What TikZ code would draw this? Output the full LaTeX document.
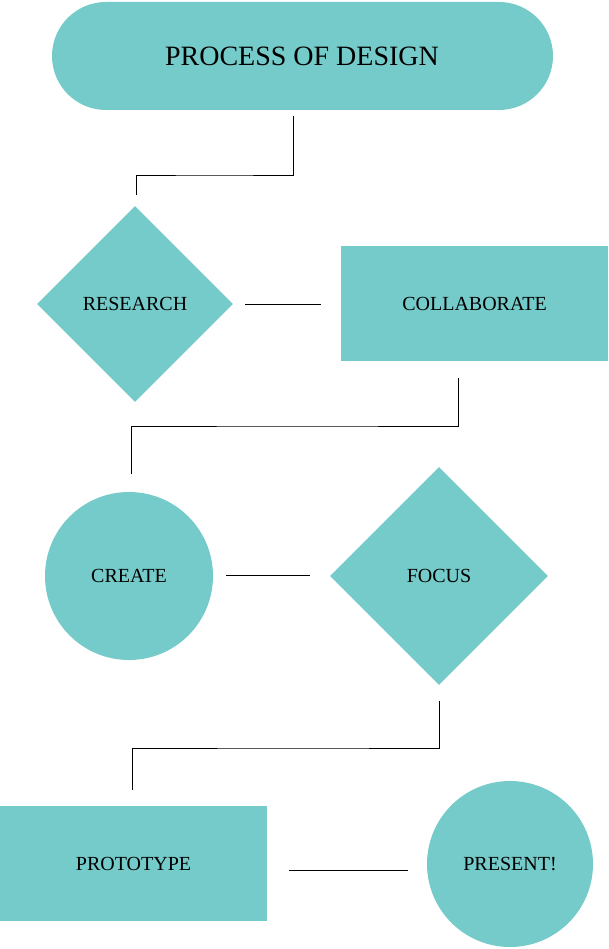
\documentclass[tikz,border=0pt]{standalone}
\usepackage{fontspec}
\setmainfont{Liberation Serif}
\usetikzlibrary{shapes.geometric}
\definecolor{teal1}{HTML}{75CBC9}
\begin{document}
\begin{tikzpicture}[x=1pt,y=-1pt,
  fillbox/.style={fill=teal1,draw=none,inner sep=0pt,font=\fontsize{20}{24}\selectfont},
  link/.style={draw=black,line width=0.6pt}]
\useasboundingbox (0,0) rectangle (609,949);
\fill[teal1,rounded corners=54pt] (52,2) rectangle (553,110);
\node[font=\fontsize{28}{32}\selectfont] (title) at (302,56) {PROCESS OF DESIGN};
\node[fillbox,diamond,minimum width=196pt,minimum height=196pt] (research) at (135,304) {RESEARCH};
\node[fillbox,rectangle,minimum width=267pt,minimum height=115pt] (collab) at (474.5,303.5) {COLLABORATE};
\node[fillbox,circle,minimum size=168pt] (create) at (129,576) {CREATE};
\node[fillbox,diamond,minimum width=218pt,minimum height=218pt] (focus) at (439,576) {FOCUS};
\node[fillbox,rectangle,minimum width=267pt,minimum height=115pt] (proto) at (133.5,863.5) {PROTOTYPE};
\node[fillbox,circle,minimum size=166pt] (present) at (510,864) {PRESENT!};
\coordinate (a1) at (293,116); \coordinate (a2) at (136,195);
\draw[link] (a1) |- (214,175) -| (a2);
\coordinate (b1) at (245,304); \coordinate (b2) at (321,304);
\draw[link] (b1) -- (b2);
\coordinate (c1) at (458,378); \coordinate (c2) at (131,474);
\draw[link] (c1) |- (300,426) -| (c2);
\coordinate (d1) at (226,575); \coordinate (d2) at (310,575);
\draw[link] (d1) -- (d2);
\coordinate (e1) at (439,701); \coordinate (e2) at (132,790);
\draw[link] (e1) |- (300,748) -| (e2);
\coordinate (f1) at (289,870); \coordinate (f2) at (408,870);
\draw[link] (f1) -- (f2);
\end{tikzpicture}
\end{document}
